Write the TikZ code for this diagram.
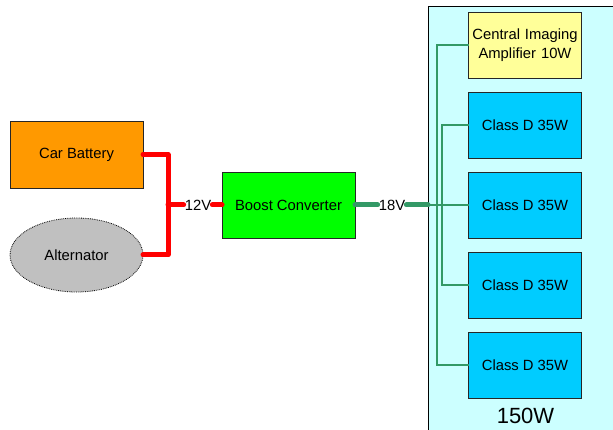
\documentclass[tikz,border=0pt]{standalone}
\usepackage{fontspec}
\setmainfont{Liberation Sans}
\usepackage{xcolor}
\usetikzlibrary{shapes, arrows, positioning, calc}

\definecolor{battorange}{HTML}{FF9900}
\definecolor{altgray}{HTML}{C0C0C0}
\definecolor{boostgreen}{HTML}{00FF00}
\definecolor{wiregreen}{HTML}{339966}
\definecolor{classblue}{HTML}{00CCFF}
\definecolor{ampyellow}{HTML}{FFFF99}
\definecolor{panelcyan}{HTML}{CCFFFF}

\begin{document}
\begin{tikzpicture}[
    x=1pt, y=-1pt,
    font=\fontsize{14.8}{18.5}\selectfont,
    node distance=14pt,
    block/.style={
        rectangle,
        draw=black!85,
        line width=0.8pt,
        text centered,
        inner sep=0pt,
        outer sep=0pt,
        minimum width=133pt,
        minimum height=66pt
    },
    ampbox/.style={
        block,
        fill=classblue,
        minimum width=113pt
    },
    cloud/.style={
        draw,
        ellipse,
        densely dotted,
        line width=0.8pt,
        fill=altgray,
        inner sep=0pt,
        outer sep=0pt,
        minimum width=133pt,
        minimum height=74pt
    },
    volt/.style={
        inner sep=1pt
    },
    supply/.style={
        draw,
        red,
        line width=5pt,
        line cap=round,
        line join=round
    },
    feed/.style={
        draw,
        wiregreen,
        line width=5pt,
        line cap=round
    },
    bus/.style={
        draw,
        wiregreen,
        line width=2pt
    }
]
\useasboundingbox (0,0) rectangle (613,430);

% Panel
\node [draw, line width=0.8pt, fill=panelcyan, minimum width=220pt, minimum height=450pt,
       outer sep=0pt, anchor=north west] (panel) at (428,6) {};

% Nodes
\node [block, fill=battorange, minimum height=67pt] (batt) at (76.5,154.5) {Car Battery};
\node [cloud] (alt) at (76.5,255) {Alternator};
\node [volt] (v12) at (198,205) {12V};
\node [block, fill=boostgreen] (boost) at (288.5,205) {Boost Converter};
\node [volt] (v18) at (392,205) {18V};

\node [ampbox, fill=ampyellow, text width=113pt] (ampc) at (525,45) {Central Imaging\\Amplifier 10W};
\node [ampbox, below=of ampc] (cls1) {Class D 35W};
\node [ampbox, below=of cls1] (cls2) {Class D 35W};
\node [ampbox, below=of cls2] (cls3) {Class D 35W};
\node [ampbox, below=of cls3] (cls4) {Class D 35W};
\node [font=\fontsize{22}{24}\selectfont] (total) at (525.5,416) {150W};

% Paths
\path [supply] (batt.east) -- ++(25,0) coordinate (jn) |- (alt.east);
\path [supply] (jn |- v12.west) -- (v12.west);
\path [supply] (v12.east) -- (boost.west);
\path [feed] (boost.east) -- (v18.west);
\path [feed] (v18.east) -- (panel.west |- v18.east);
\path [bus] (panel.west |- cls2.west) -- (cls2.west);
\path [bus] (ampc.west) -- ++(-31.5,0) |- (cls4.west);
\path [bus] (cls1.west) -- ++(-26.5,0) |- (cls3.west);

\end{tikzpicture}
\end{document}
